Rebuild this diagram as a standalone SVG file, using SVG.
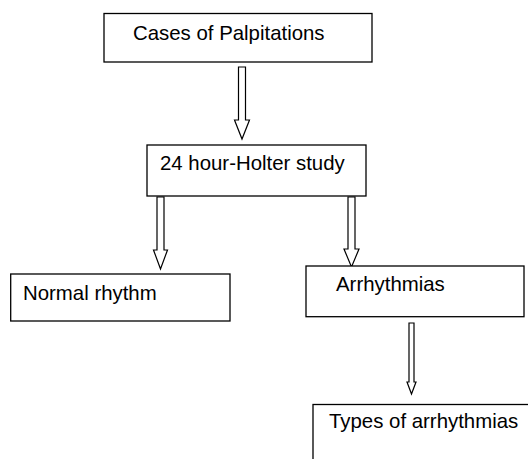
<svg xmlns="http://www.w3.org/2000/svg" width="528" height="459" viewBox="0 0 528 459">
<style>
.box{fill:#fff;stroke:#000;stroke-width:1.3}
.arr{fill:#fff;stroke:#000;stroke-width:1.2;stroke-linejoin:miter}
text{font-family:"Liberation Sans",Arial,sans-serif;font-size:20.4px;fill:#000}
</style>
<rect width="528" height="459" fill="#fff"/>
<g id="connectors">
<path class="arr" d="M238.5,67 L245.5,67 L245.5,120 L249.5,120 L242,139 L234.5,120 L238.5,120 Z"/>
<path class="arr" d="M157,197 L164,197 L164,250 L167.5,250 L160.5,269 L153.5,250 L157,250 Z"/>
<path class="arr" d="M348,197 L355,197 L355,249 L359,249 L351.5,267 L344,249 L348,249 Z"/>
<path class="arr" d="M409,323 L414,323 L414,382 L416,382 L411.5,394 L407,382 L409,382 Z"/>
</g>
<g id="n1"><rect class="box" x="104" y="13.5" width="268" height="48.5"/><text x="133" y="40">Cases of Palpitations</text></g>
<g id="n2"><rect class="box" x="147" y="145" width="219" height="51"/><text x="160" y="170">24 hour-Holter study</text></g>
<g id="n3"><rect class="box" x="10.7" y="274" width="219.3" height="47"/><text x="23" y="300">Normal rhythm</text></g>
<g id="n4"><rect class="box" x="306" y="266" width="218" height="50.7"/><text x="336" y="291">Arrhythmias</text></g>
<g id="n5"><rect class="box" x="313" y="404.5" width="230" height="70"/><text x="329" y="428">Types of arrhythmias</text></g>
</svg>
